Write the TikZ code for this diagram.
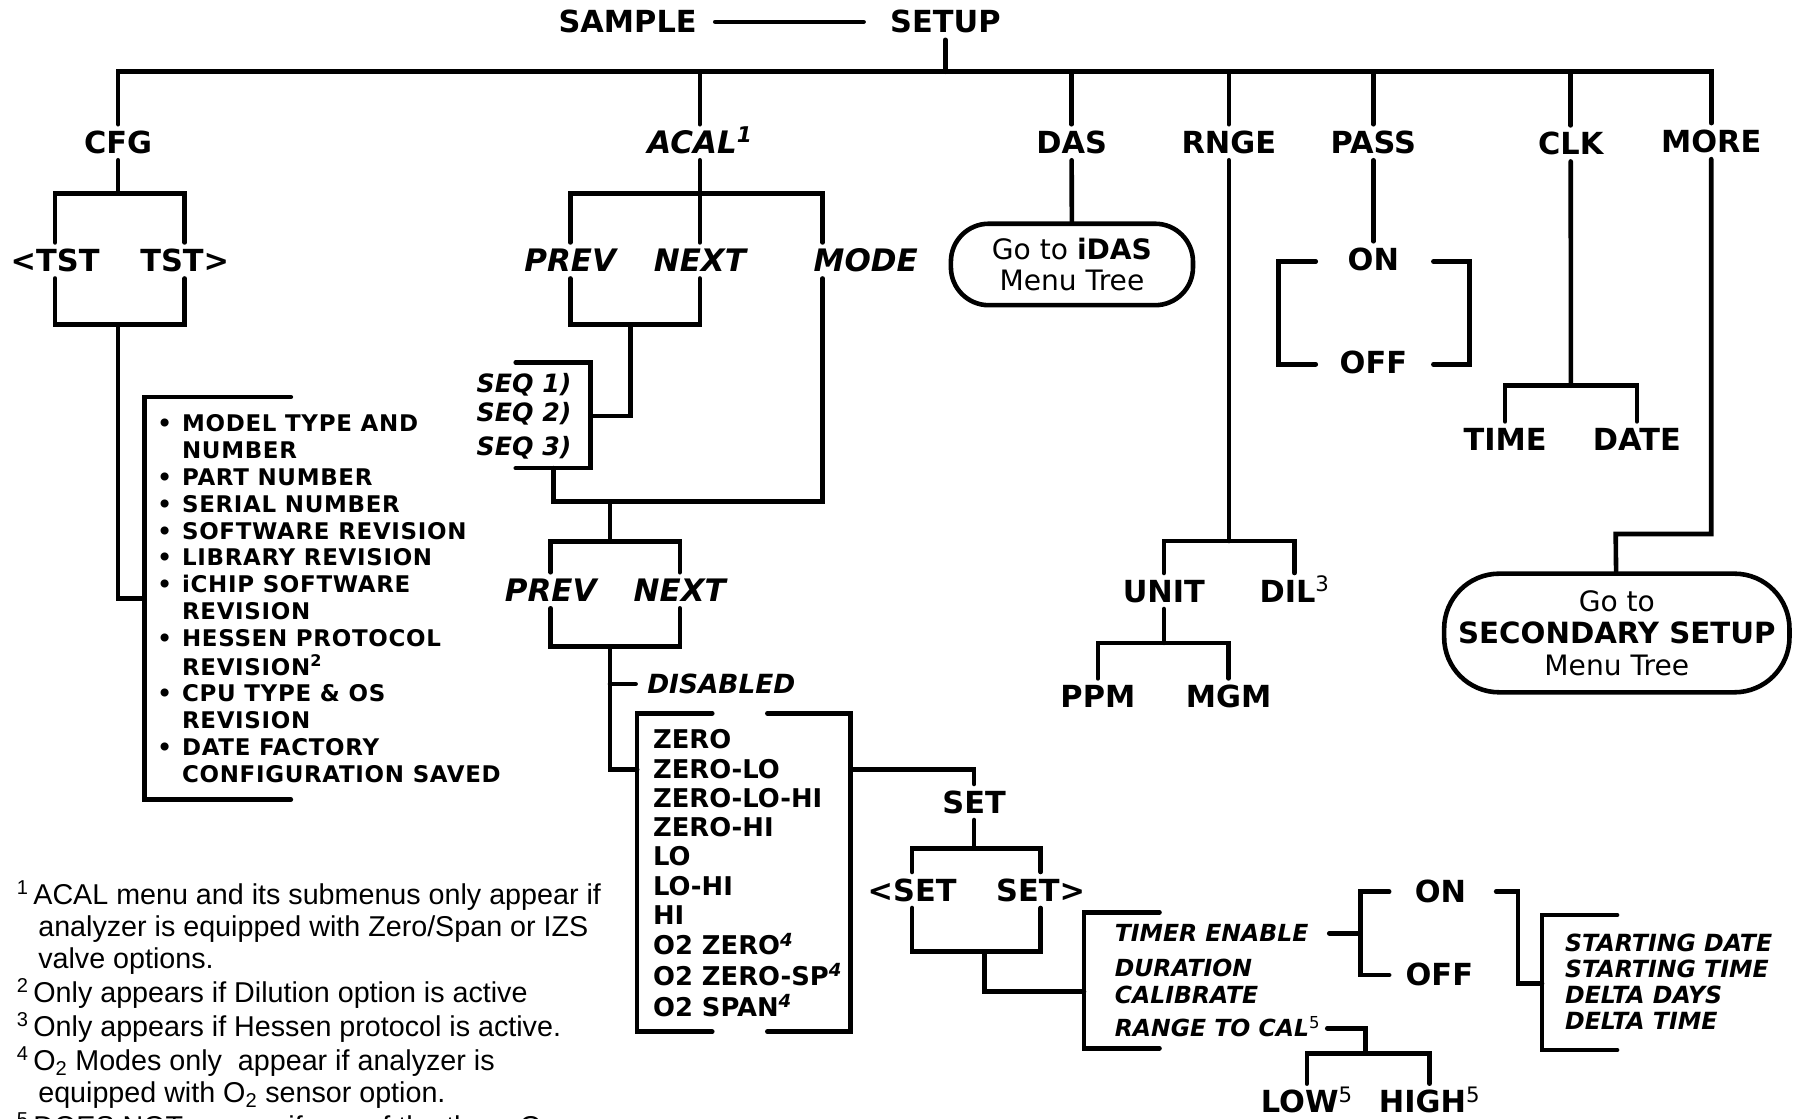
\documentclass[tikz,border=0pt]{standalone}
\usepackage{fontspec}
\newfontfamily\dejavu{DejaVu Sans}
\newfontfamily\dejavuwide{DejaVu Sans}[LetterSpace=3]
\newfontfamily\libsans{Liberation Sans}

\begin{document}
\begin{tikzpicture}[
  x=1pt, y=-1pt,
  wire/.style={line width=4pt, line cap=round},
  lbl/.style={font=\dejavu\bfseries\fontsize{26.5}{30}\selectfont, inner sep=0pt, text height=19.3pt, text depth=0pt, minimum height=31pt},
  ilbl/.style={lbl, font=\dejavu\bfseries\itshape\fontsize{27}{30}\selectfont},
  tmr/.style={font=\dejavu\bfseries\itshape\fontsize{20.5}{23}\selectfont, inner sep=0pt, text height=15pt, text depth=0pt, anchor=west},
  lst/.style={inner sep=0pt, anchor=base west},
  gobox/.style={draw, line width=4pt, align=center, inner sep=0pt, font=\dejavu\fontsize{24.5}{27.6}\selectfont},
]
\useasboundingbox (0,0) rectangle (1568,975);

% ---------- top level ----------
\node[lbl] (sample) at (547,19) {SAMPLE};
\node[lbl] (setup) at (824,19) {SETUP};
\draw[wire, shorten <=16pt, shorten >=23pt] (sample) -- (setup);
\coordinate (bar) at (824,62.5);
\draw[wire] (setup) -- (bar);

\node[lbl] (cfg) at (103,124) {CFG};
\node[ilbl] (acal) at (610,124) {ACAL\textsuperscript{1}};
\node[lbl] (das) at (934,124) {DAS};
\node[lbl] (rnge) at (1071,124) {RNGE};
\node[lbl] (pass) at (1197,124) {PASS};
\node[lbl] (clk) at (1369,125) {CLK};
\node[lbl] (more) at (1491.5,123) {MORE};
\draw[wire] (cfg) |- (bar) -| (more);
\foreach \n in {acal,das,rnge,pass,clk}{ \draw[wire] (\n) -- (\n |- bar); }

% ---------- CFG ----------
\coordinate (cfgj) at (103,168.5);
\coordinate (cfgk) at (103,283);
\node[lbl] (tstl) at (48,227) {<TST};
\node[lbl] (tstr) at (161,227) {TST>};
\draw[wire] (cfg) -- (cfgj);
\draw[wire] (tstl) |- (cfgj) -| (tstr);
\draw[wire] (tstl) |- (cfgk) -| (tstr);
\coordinate (infoj) at (126,521.5);
\coordinate (infoa) at (253.5,346);
\coordinate (infob) at (253.5,697);
\draw[wire] (cfgk) |- (infoj);
\draw[wire] (infoa) -| (infoj) |- (infob);
\node[lst, font=\dejavuwide\bfseries\fontsize{20}{23.4}\selectfont] (info) at (137,376.3)
  {\begin{tabular}[t]{@{}p{21.5pt}@{}l@{}}
  • & MODEL TYPE AND\\
    & NUMBER\\
  • & PART NUMBER\\
  • & SERIAL NUMBER\\
  • & SOFTWARE REVISION\\
  • & LIBRARY REVISION\\
  • & iCHIP SOFTWARE\\
    & REVISION\\
  • & HESSEN PROTOCOL\\
    & REVISION\textsuperscript{2}\\
  • & CPU TYPE \& OS\\
    & REVISION\\
  • & DATE FACTORY\\
    & CONFIGURATION SAVED
  \end{tabular}};

% ---------- ACAL ----------
\coordinate (acalj) at (610,168.5);
\coordinate (acalk) at (549.5,283);
\node[ilbl] (prev) at (497,227) {PREV};
\node[ilbl] (next) at (610,227) {NEXT};
\node[ilbl, anchor=west] (mode) at (709,227) {MODE};
\draw[wire] (acal) -- (acalj);
\draw[wire] (prev) |- (acalj) -| ([xshift=8pt]mode.north west);
\draw[wire] (next) -- (acalj);
\draw[wire] (prev) |- (acalk) -| (next);

\coordinate (seqj) at (514.5,362.6);
\coordinate (seqa) at (449.5,316);
\coordinate (seqb) at (449.5,408);
\draw[wire] (acalk) |- (seqj);
\draw[wire] (seqa) -| (seqj) |- (seqb);
\node[lst, anchor=base east, font=\dejavu\bfseries\itshape\fontsize{22}{25.3}\selectfont] (seq) at (498.3,342.1)
  {\begin{tabular}[t]{@{}r@{}}SEQ 1)\\SEQ 2)\\[4.6pt]SEQ 3)\end{tabular}};

\coordinate (seqd) at (482.3,408);
\coordinate (modej) at (531.7,437.2);
\draw[wire] ([xshift=8pt]mode.south west) |- (modej);
\draw[wire] (seqd) |- (modej);

\coordinate (cal2j) at (531.7,472.1);
\coordinate (cal2k) at (531.7,563.6);
\node[ilbl] (prev2) at (480,514.5) {PREV};
\node[ilbl] (next2) at (592.5,514.5) {NEXT};
\draw[wire] (modej) -- (cal2j);
\draw[wire] (prev2) |- (cal2j) -| (next2);
\draw[wire] (prev2) |- (cal2k) -| (next2);

\coordinate (disj) at (531.7,596.2);
\node[ilbl, anchor=west, font=\dejavu\bfseries\itshape\fontsize{23}{26}\selectfont, text height=16.8pt] (disabled) at (564,596.2) {DISABLED};
\draw[wire, shorten >=10pt] (disj) -- (disabled.west);

% modes
\coordinate (modesj) at (555.3,670.6);
\coordinate (modesr) at (741.5,670.6);
\coordinate (mtl) at (620.8,621.7);
\coordinate (mbl) at (620.8,899.2);
\coordinate (mtr) at (668.8,621.7);
\coordinate (mbr) at (668.8,899.2);
\draw[wire] (cal2k) |- (modesj);
\draw[wire] (mtl) -| (modesj) |- (mbl);
\draw[wire] (mtr) -| (modesr) |- (mbr);
\node[lst, font=\dejavu\bfseries\fontsize{22.5}{25.5}\selectfont] (modes) at (569,652.6)
  {\begin{tabular}[t]{@{}l@{}}
  ZERO\\ ZERO-LO\\ ZERO-LO-HI\\ ZERO-HI\\ LO\\ LO-HI\\ HI\\
  O2 ZERO\textsuperscript{\itshape 4}\\
  O2 ZERO-SP\textsuperscript{\itshape 4}\\
  O2 SPAN\textsuperscript{\itshape 4}
  \end{tabular}};

% ---------- SET ----------
\node[lbl] (set) at (849,699) {SET};
\draw[wire] (modesr) -| (set);
\coordinate (setk) at (849,739.4);
\coordinate (setm) at (858.2,829.5);
\node[lbl] (setl) at (795,775.7) {<SET};
\node[lbl] (setr) at (907,775.7) {SET>};
\draw[wire] (set) -- (setk);
\draw[wire] (setl) |- (setk) -| (setr);
\draw[wire] (setl) |- (setm) -| (setr);

\coordinate (timj) at (944.8,864.4);
\coordinate (tima) at (1010.6,795.2);
\coordinate (timb) at (1010.6,913.7);
\draw[wire] (setm) |- (timj);
\draw[wire] (tima) -| (timj) |- (timb);
\node[tmr] (timer) at (971.5,813.5) {TIMER ENABLE};
\node[tmr] (duration) at (971.5,844) {DURATION};
\node[tmr] (calib) at (971.5,867.2) {CALIBRATE};
\node[tmr] (range) at (971.5,896.3) {RANGE TO CAL\textsuperscript{\upshape\mdseries 5}};

% timer on / off
\coordinate (onj) at (1185.8,813.5);
\coordinate (ona) at (1210.8,777.2);
\coordinate (offa) at (1210.8,849.8);
\node[lbl] (on2) at (1255.5,777) {ON};
\node[lbl] (off2) at (1254.5,849) {OFF};
\draw[wire, shorten <=18pt] (timer.east) -- (onj);
\draw[wire] (ona) -| (onj) |- (offa);

\coordinate (stc) at (1323.2,857);
\coordinate (stj) at (1344,857);
\coordinate (sta) at (1409.4,797.5);
\coordinate (stb) at (1409.4,915.2);
\draw[wire, shorten <=26pt] (on2.east) -| (stc) -- (stj);
\draw[wire] (sta) -| (stj) |- (stb);
\node[lst, font=\dejavu\bfseries\itshape\fontsize{20.6}{22.8}\selectfont] (starts) at (1364,829.1)
  {\begin{tabular}[t]{@{}l@{}}STARTING DATE\\ STARTING TIME\\ DELTA DAYS\\ DELTA TIME\end{tabular}};

% range to cal
\coordinate (rngj) at (1190,918);
\node[lbl] (low) at (1139,960.2) {LOW\textsuperscript{\mdseries 5}};
\node[lbl] (high) at (1246,960.2) {HIGH\textsuperscript{\mdseries 5}};
\draw[wire, shorten <=6pt] (range.east) -| (rngj);
\draw[wire] (low) |- (rngj) -| (high);

% ---------- DAS ----------
\node[gobox, minimum width=211pt, minimum height=71pt, rounded corners=33pt] (idas) at (934.3,230.5)
  {Go to \textbf{iDAS}\\Menu Tree};
\draw[wire] (das) -- (idas);

% ---------- RNGE ----------
\coordinate (rngej) at (1071,471.5);
\coordinate (unitj) at (1014.4,560.3);
\node[lbl] (unit) at (1014.4,515.1) {UNIT};
\node[lbl] (dil) at (1128.3,515.1) {DIL\textsuperscript{\mdseries 3}};
\node[lbl] (ppm) at (956.9,607) {PPM};
\node[lbl] (mgm) at (1070.8,607) {MGM};
\draw[wire] (rnge) -- (rngej);
\draw[wire] (unit) |- (rngej) -| (dil);
\draw[wire] (unit) -- (unitj);
\draw[wire] (ppm) |- (unitj) -| (mgm);

% ---------- PASS ----------
\node[lbl] (on1) at (1197,226) {ON};
\node[lbl] (off1) at (1197,316) {OFF};
\draw[wire] (pass) -- (on1);
\coordinate (pa) at (1146.8,227.9);
\coordinate (pb) at (1146.8,317.5);
\coordinate (pl) at (1114.3,272);
\coordinate (pc) at (1249.3,227.9);
\coordinate (pd) at (1249.3,317.5);
\coordinate (pr) at (1280.7,272);
\draw[wire] (pa) -| (pl) |- (pb);
\draw[wire] (pc) -| (pr) |- (pd);

% ---------- CLK ----------
\coordinate (clkj) at (1369.2,336.2);
\node[lbl] (time) at (1311.8,383) {TIME};
\node[lbl] (date) at (1426.7,383) {DATE};
\draw[wire] (clk) -- (clkj);
\draw[wire] (time) |- (clkj) -| (date);

% ---------- MORE ----------
\coordinate (morej) at (1408.2,465.4);
\node[gobox, minimum width=301pt, minimum height=103.4pt, rounded corners=48pt, font=\dejavu\fontsize{24.5}{28}\selectfont] (secbox) at (1409.2,551.7)
  {Go to\\{\fontsize{25.5}{28}\selectfont\bfseries SECONDARY SETUP}\\Menu Tree};
\draw[wire] (more) |- (morej) -- (secbox);

% ---------- notes ----------
\node[lst, font=\libsans\fontsize{25}{28}\selectfont] (notes) at (14.5,788.5)
  {\begin{tabular}[t]{@{}l@{}}
  \textsuperscript{1}\,ACAL menu and its submenus only appear if\\
  \hspace*{18.7pt}analyzer is equipped with Zero/Span or IZS\\
  \hspace*{18.7pt}valve options.\\
  \textsuperscript{2}\,Only appears if Dilution option is active\\
  \textsuperscript{3}\,Only appears if Hessen protocol is active.\\
  \textsuperscript{4}\,O\textsubscript{2} Modes only\ \ appear if analyzer is\\
  \hspace*{18.7pt}equipped with O\textsubscript{2} sensor option.\\
  \textsuperscript{5}\,DOES NOT appear if one of the three O
  \end{tabular}};
\end{tikzpicture}
\end{document}
